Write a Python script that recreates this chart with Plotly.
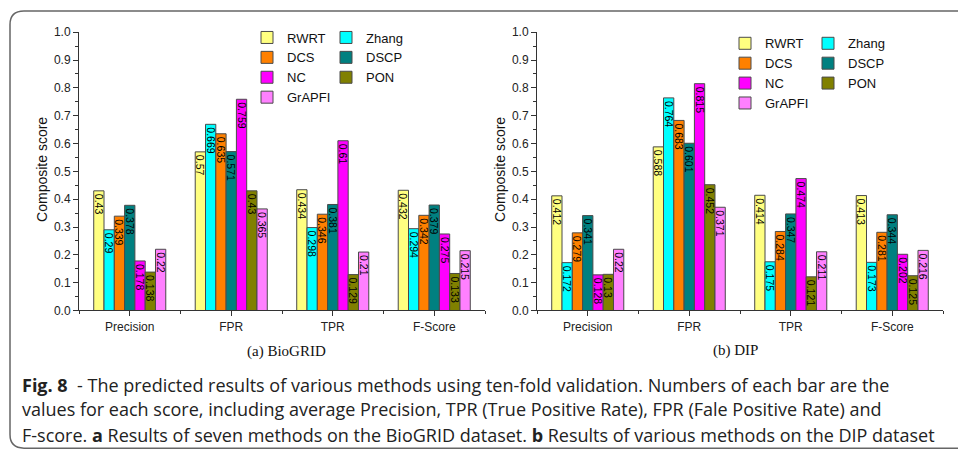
import plotly.graph_objects as go

categories = ["Precision", "FPR", "TPR", "F-Score"]
methods = ["RWRT", "Zhang", "DCS", "DSCP", "NC", "PON", "GrAPFI"]
colors = ["#FFFF80", "#00FFFF", "#FF8000", "#008080", "#FF00FF", "#808000", "#FF80FF"]

# BioGRID values per method: [Precision, FPR, TPR, F-Score]
biogrid_RWRT = [0.43, 0.57, 0.434, 0.432]
biogrid_Zhang = [0.29, 0.669, 0.298, 0.294]
biogrid_DCS = [0.339, 0.635, 0.346, 0.342]
biogrid_DSCP = [0.378, 0.571, 0.381, 0.379]
biogrid_NC = [0.178, 0.759, 0.61, 0.275]
biogrid_PON = [0.138, 0.43, 0.129, 0.133]
biogrid_GrAPFI = [0.22, 0.365, 0.21, 0.215]

# DIP values per method
dip_RWRT = [0.412, 0.588, 0.414, 0.413]
dip_Zhang = [0.172, 0.764, 0.175, 0.173]
dip_DCS = [0.279, 0.683, 0.284, 0.281]
dip_DSCP = [0.341, 0.601, 0.347, 0.344]
dip_NC = [0.128, 0.815, 0.474, 0.202]
dip_PON = [0.13, 0.452, 0.121, 0.125]
dip_GrAPFI = [0.22, 0.371, 0.211, 0.216]

biogrid = [biogrid_RWRT, biogrid_Zhang, biogrid_DCS, biogrid_DSCP, biogrid_NC, biogrid_PON, biogrid_GrAPFI]
dip = [dip_RWRT, dip_Zhang, dip_DCS, dip_DSCP, dip_NC, dip_PON, dip_GrAPFI]

y_ticks = [0.0, 0.1, 0.2, 0.3, 0.4, 0.5, 0.6, 0.7, 0.8, 0.9, 1.0]
xpos = list(range(len(categories)))

W, H = 958, 461
def px(x):
    return x / W
def py(y):
    return (H - y) / H

SANS = "Liberation Sans, Arial, sans-serif"

fig = go.Figure()

legend_cols = [
    ("legend", "legend2"),
    ("legend3", "legend4"),
]
col_of = [0, 1, 0, 1, 0, 1, 0]

for panel, (data, xa, ya) in enumerate([(biogrid, "x", "y"), (dip, "x2", "y2")]):
    for i, m in enumerate(methods):
        fig.add_trace(go.Bar(
            x=xpos, y=data[i], name=m,
            xaxis=xa, yaxis=ya,
            marker=dict(color=colors[i], line=dict(color="#4a4a4a", width=1)),
            text=[str(v) for v in data[i]],
            textposition="inside", insidetextanchor="end", textangle=90,
            constraintext="none",
            insidetextfont=dict(family=SANS, size=10.5, color="#000"),
            offsetgroup=str(i),
            legend=legend_cols[panel][col_of[i]],
            showlegend=True,
        ))

axis_common = dict(showline=True, linecolor="#333", linewidth=1, showgrid=False, zeroline=False,
                   ticks="outside", tickcolor="#333", ticklen=5,
                   tickfont=dict(family=SANS, size=12, color="#222"))

xdom1 = [px(79), px(485)]
xdom2 = [px(537), px(943)]
ydom = [py(313), py(26)]

for k, dom in [("", xdom1), ("2", xdom2)]:
    fig.update_layout(**{
        "xaxis" + k: dict(domain=dom, range=[-0.5, 3.5], tickvals=xpos, ticktext=categories,
                          anchor="y" + k,
                          minor=dict(tick0=0.5, dtick=1, ticks="outside", ticklen=3, tickcolor="#333"),
                          **axis_common),
        "yaxis" + k: dict(domain=ydom, range=[0, 1.0], tickvals=y_ticks, tickformat=".1f",
                          anchor="x" + k,
                          minor=dict(dtick=0.05, ticks="outside", ticklen=3, tickcolor="#333"),
                          **axis_common),
    })

leg_font = dict(family=SANS, size=13, color="#111")
def leg(x, y):
    return dict(x=px(x), y=py(y), xref="paper", yref="paper", xanchor="left", yanchor="top",
                bgcolor="rgba(0,0,0,0)", font=leg_font, itemwidth=30, tracegroupgap=0)

fig.update_layout(
    width=W, height=H,
    margin=dict(l=0, r=0, t=0, b=0),
    paper_bgcolor="white", plot_bgcolor="white",
    barmode="group", bargap=0.29, bargroupgap=0,
    legend=leg(247, 16),
    legend2=leg(326, 16),
    legend3=leg(725, 22),
    legend4=leg(808, 22),
)

annots = []
for xc in [42, 500]:
    annots.append(dict(x=px(xc), y=py(168), xref="paper", yref="paper", text="Composite score",
                       textangle=-90, showarrow=False, xanchor="center", yanchor="middle",
                       font=dict(family=SANS, size=14, color="#111")))
annots.append(dict(x=px(286), y=py(355), xref="paper", yref="paper", text="(a) BioGRID",
                   showarrow=False, xanchor="center", yanchor="middle",
                   font=dict(family="Liberation Serif, Times New Roman, serif", size=15, color="#111")))
annots.append(dict(x=px(735), y=py(354), xref="paper", yref="paper", text="(b) DIP",
                   showarrow=False, xanchor="center", yanchor="middle",
                   font=dict(family="Liberation Serif, Times New Roman, serif", size=15, color="#111")))

caption_lines = [
    "<b>Fig. 8</b>  - The predicted results of various methods using ten-fold validation. Numbers of each bar are the",
    "values for each score, including average Precision, TPR (True Positive Rate), FPR (Fale Positive Rate) and",
    "F-score. <b>a</b> Results of seven methods on the BioGRID dataset. <b>b</b> Results of various methods on the DIP dataset",
]
for line, yc in zip(caption_lines, [390, 415, 441]):
    annots.append(dict(x=px(20), y=py(yc), xref="paper", yref="paper", text=line,
                       showarrow=False, xanchor="left", yanchor="middle",
                       font=dict(family="Open Sans", size=18, color="#222")))
fig.update_layout(annotations=annots)

# rounded frame around the figure
x0, x1, y0, y1, r = 10, 975, 4, 455, 14
path = (f"M {px(x0)} {py(y0 + r)} L {px(x0)} {py(y1 - r)} "
        f"Q {px(x0)} {py(y1)} {px(x0 + r)} {py(y1)} L {px(x1)} {py(y1)} "
        f"M {px(x1)} {py(y0)} L {px(x0 + r)} {py(y0)} Q {px(x0)} {py(y0)} {px(x0)} {py(y0 + r)}")
fig.add_shape(type="path", path=path, xref="paper", yref="paper",
              line=dict(color="#666", width=1.5))

fig.write_html("out.html")
